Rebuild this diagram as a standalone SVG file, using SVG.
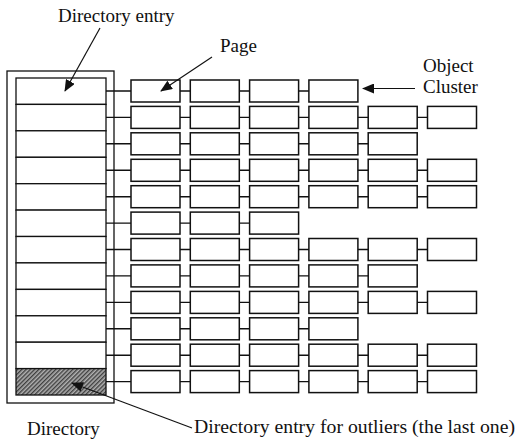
<svg xmlns="http://www.w3.org/2000/svg" width="517" height="441" viewBox="0 0 517 441">
<style>
.pg{fill:#fff;stroke:#111;stroke-width:1.5}
.en{fill:#fff;stroke:#111;stroke-width:1.3}
.dir{fill:none;stroke:#111;stroke-width:1.3}
.cn{fill:none;stroke:#111;stroke-width:1.4}
.ar{fill:none;stroke:#111;stroke-width:1.2}
text{font-family:"Liberation Serif","Times New Roman",serif;font-size:19px;fill:#111}
</style>
<defs>
<marker id="ah" viewBox="0 0 12 10" refX="11" refY="5" markerWidth="12" markerHeight="10" markerUnits="userSpaceOnUse" orient="auto">
<path d="M0,0 L12,5 L0,10 Z" fill="#111"/>
</marker>
<pattern id="hatch" width="3" height="3" patternUnits="userSpaceOnUse" patternTransform="rotate(45)">
<rect width="3" height="3" fill="#b0b0b0"/>
<rect width="1.4" height="3" fill="#404040"/>
</pattern>
</defs>
<rect width="517" height="441" fill="#fff"/>

<g id="directory">
<rect class="dir" x="7" y="71" width="107" height="332"/>
<g id="entry1"><rect class="en" x="16" y="78" width="90" height="26.4"/></g>
<g id="entry2"><rect class="en" x="16" y="104.4" width="90" height="26.4"/></g>
<g id="entry3"><rect class="en" x="16" y="130.8" width="90" height="26.5"/></g>
<g id="entry4"><rect class="en" x="16" y="157.3" width="90" height="26.4"/></g>
<g id="entry5"><rect class="en" x="16" y="183.7" width="90" height="26.4"/></g>
<g id="entry6"><rect class="en" x="16" y="210.1" width="90" height="26.4"/></g>
<g id="entry7"><rect class="en" x="16" y="236.5" width="90" height="26.4"/></g>
<g id="entry8"><rect class="en" x="16" y="262.9" width="90" height="26.5"/></g>
<g id="entry9"><rect class="en" x="16" y="289.4" width="90" height="26.4"/></g>
<g id="entry10"><rect class="en" x="16" y="315.8" width="90" height="26.4"/></g>
<g id="entry11"><rect class="en" x="16" y="342.2" width="90" height="26.4"/></g>
<g id="entry12"><rect x="16" y="368.6" width="90" height="26.4" fill="url(#hatch)" stroke="#111" stroke-width="1.3"/></g>
</g>

<g id="row1">
<g id="p1-1"><rect class="pg" x="131" y="80" width="49" height="22"/></g>
<g id="p1-2"><rect class="pg" x="190.3" y="80" width="49" height="22"/></g>
<g id="p1-3"><rect class="pg" x="249.6" y="80" width="49" height="22"/></g>
<g id="p1-4"><rect class="pg" x="308.9" y="80" width="49" height="22"/></g>
</g>
<g id="row2">
<g id="p2-1"><rect class="pg" x="131" y="106.4" width="49" height="22"/></g>
<g id="p2-2"><rect class="pg" x="190.3" y="106.4" width="49" height="22"/></g>
<g id="p2-3"><rect class="pg" x="249.6" y="106.4" width="49" height="22"/></g>
<g id="p2-4"><rect class="pg" x="308.9" y="106.4" width="49" height="22"/></g>
<g id="p2-5"><rect class="pg" x="368.2" y="106.4" width="49" height="22"/></g>
<g id="p2-6"><rect class="pg" x="427.5" y="106.4" width="49" height="22"/></g>
</g>
<g id="row3">
<g id="p3-1"><rect class="pg" x="131" y="132.8" width="49" height="22"/></g>
<g id="p3-2"><rect class="pg" x="190.3" y="132.8" width="49" height="22"/></g>
<g id="p3-3"><rect class="pg" x="249.6" y="132.8" width="49" height="22"/></g>
<g id="p3-4"><rect class="pg" x="308.9" y="132.8" width="49" height="22"/></g>
<g id="p3-5"><rect class="pg" x="368.2" y="132.8" width="49" height="22"/></g>
</g>
<g id="row4">
<g id="p4-1"><rect class="pg" x="131" y="159.3" width="49" height="22"/></g>
<g id="p4-2"><rect class="pg" x="190.3" y="159.3" width="49" height="22"/></g>
<g id="p4-3"><rect class="pg" x="249.6" y="159.3" width="49" height="22"/></g>
<g id="p4-4"><rect class="pg" x="308.9" y="159.3" width="49" height="22"/></g>
<g id="p4-5"><rect class="pg" x="368.2" y="159.3" width="49" height="22"/></g>
<g id="p4-6"><rect class="pg" x="427.5" y="159.3" width="49" height="22"/></g>
</g>
<g id="row5">
<g id="p5-1"><rect class="pg" x="131" y="185.7" width="49" height="22"/></g>
<g id="p5-2"><rect class="pg" x="190.3" y="185.7" width="49" height="22"/></g>
<g id="p5-3"><rect class="pg" x="249.6" y="185.7" width="49" height="22"/></g>
<g id="p5-4"><rect class="pg" x="308.9" y="185.7" width="49" height="22"/></g>
<g id="p5-5"><rect class="pg" x="368.2" y="185.7" width="49" height="22"/></g>
<g id="p5-6"><rect class="pg" x="427.5" y="185.7" width="49" height="22"/></g>
</g>
<g id="row6">
<g id="p6-1"><rect class="pg" x="131" y="212.1" width="49" height="22"/></g>
<g id="p6-2"><rect class="pg" x="190.3" y="212.1" width="49" height="22"/></g>
<g id="p6-3"><rect class="pg" x="249.6" y="212.1" width="49" height="22"/></g>
</g>
<g id="row7">
<g id="p7-1"><rect class="pg" x="131" y="238.5" width="49" height="22"/></g>
<g id="p7-2"><rect class="pg" x="190.3" y="238.5" width="49" height="22"/></g>
<g id="p7-3"><rect class="pg" x="249.6" y="238.5" width="49" height="22"/></g>
<g id="p7-4"><rect class="pg" x="308.9" y="238.5" width="49" height="22"/></g>
<g id="p7-5"><rect class="pg" x="368.2" y="238.5" width="49" height="22"/></g>
<g id="p7-6"><rect class="pg" x="427.5" y="238.5" width="49" height="22"/></g>
</g>
<g id="row8">
<g id="p8-1"><rect class="pg" x="131" y="264.9" width="49" height="22"/></g>
<g id="p8-2"><rect class="pg" x="190.3" y="264.9" width="49" height="22"/></g>
<g id="p8-3"><rect class="pg" x="249.6" y="264.9" width="49" height="22"/></g>
<g id="p8-4"><rect class="pg" x="308.9" y="264.9" width="49" height="22"/></g>
<g id="p8-5"><rect class="pg" x="368.2" y="264.9" width="49" height="22"/></g>
</g>
<g id="row9">
<g id="p9-1"><rect class="pg" x="131" y="291.4" width="49" height="22"/></g>
<g id="p9-2"><rect class="pg" x="190.3" y="291.4" width="49" height="22"/></g>
<g id="p9-3"><rect class="pg" x="249.6" y="291.4" width="49" height="22"/></g>
<g id="p9-4"><rect class="pg" x="308.9" y="291.4" width="49" height="22"/></g>
<g id="p9-5"><rect class="pg" x="368.2" y="291.4" width="49" height="22"/></g>
<g id="p9-6"><rect class="pg" x="427.5" y="291.4" width="49" height="22"/></g>
</g>
<g id="row10">
<g id="p10-1"><rect class="pg" x="131" y="317.8" width="49" height="22"/></g>
<g id="p10-2"><rect class="pg" x="190.3" y="317.8" width="49" height="22"/></g>
<g id="p10-3"><rect class="pg" x="249.6" y="317.8" width="49" height="22"/></g>
<g id="p10-4"><rect class="pg" x="308.9" y="317.8" width="49" height="22"/></g>
</g>
<g id="row11">
<g id="p11-1"><rect class="pg" x="131" y="344.2" width="49" height="22"/></g>
<g id="p11-2"><rect class="pg" x="190.3" y="344.2" width="49" height="22"/></g>
<g id="p11-3"><rect class="pg" x="249.6" y="344.2" width="49" height="22"/></g>
<g id="p11-4"><rect class="pg" x="308.9" y="344.2" width="49" height="22"/></g>
<g id="p11-5"><rect class="pg" x="368.2" y="344.2" width="49" height="22"/></g>
<g id="p11-6"><rect class="pg" x="427.5" y="344.2" width="49" height="22"/></g>
</g>
<g id="row12">
<g id="p12-1"><rect class="pg" x="131" y="370.6" width="49" height="22"/></g>
<g id="p12-2"><rect class="pg" x="190.3" y="370.6" width="49" height="22"/></g>
<g id="p12-3"><rect class="pg" x="249.6" y="370.6" width="49" height="22"/></g>
<g id="p12-4"><rect class="pg" x="308.9" y="370.6" width="49" height="22"/></g>
<g id="p12-5"><rect class="pg" x="368.2" y="370.6" width="49" height="22"/></g>
<g id="p12-6"><rect class="pg" x="427.5" y="370.6" width="49" height="22"/></g>
</g>

<g id="connectors">
<path class="cn" d="M106 91H131M180 91H190.3M239.3 91H249.6M298.6 91H308.9"/>
<path class="cn" d="M106 117.4H131M180 117.4H190.3M239.3 117.4H249.6M298.6 117.4H308.9M357.9 117.4H368.2M417.2 117.4H427.5"/>
<path class="cn" d="M106 143.8H131M180 143.8H190.3M239.3 143.8H249.6M298.6 143.8H308.9M357.9 143.8H368.2"/>
<path class="cn" d="M106 170.3H131M180 170.3H190.3M239.3 170.3H249.6M298.6 170.3H308.9M357.9 170.3H368.2M417.2 170.3H427.5"/>
<path class="cn" d="M106 196.7H131M180 196.7H190.3M239.3 196.7H249.6M298.6 196.7H308.9M357.9 196.7H368.2M417.2 196.7H427.5"/>
<path class="cn" d="M106 223.1H131M180 223.1H190.3M239.3 223.1H249.6"/>
<path class="cn" d="M106 249.5H131M180 249.5H190.3M239.3 249.5H249.6M298.6 249.5H308.9M357.9 249.5H368.2M417.2 249.5H427.5"/>
<path class="cn" d="M106 275.9H131M180 275.9H190.3M239.3 275.9H249.6M298.6 275.9H308.9M357.9 275.9H368.2"/>
<path class="cn" d="M106 302.4H131M180 302.4H190.3M239.3 302.4H249.6M298.6 302.4H308.9M357.9 302.4H368.2M417.2 302.4H427.5"/>
<path class="cn" d="M106 328.8H131M180 328.8H190.3M239.3 328.8H249.6M298.6 328.8H308.9"/>
<path class="cn" d="M106 355.2H131M180 355.2H190.3M239.3 355.2H249.6M298.6 355.2H308.9M357.9 355.2H368.2M417.2 355.2H427.5"/>
<path class="cn" d="M106 381.6H131M180 381.6H190.3M239.3 381.6H249.6M298.6 381.6H308.9M357.9 381.6H368.2M417.2 381.6H427.5"/>
<line class="ar" x1="100" y1="28" x2="65" y2="91" marker-end="url(#ah)"/>
<line class="ar" x1="212" y1="57" x2="161" y2="91" marker-end="url(#ah)"/>
<line class="ar" x1="415" y1="88.5" x2="363" y2="88.5" marker-end="url(#ah)"/>
<line class="ar" x1="192" y1="428" x2="72" y2="383" marker-end="url(#ah)"/>
</g>

<g id="labels">
<text x="58" y="22">Directory entry</text>
<text x="220" y="52">Page</text>
<text x="423" y="72">Object</text>
<text x="423" y="93">Cluster</text>
<text x="27" y="435">Directory</text>
<text x="194" y="433" textLength="321" lengthAdjust="spacingAndGlyphs">Directory entry for outliers (the last one)</text>
</g>
</svg>
